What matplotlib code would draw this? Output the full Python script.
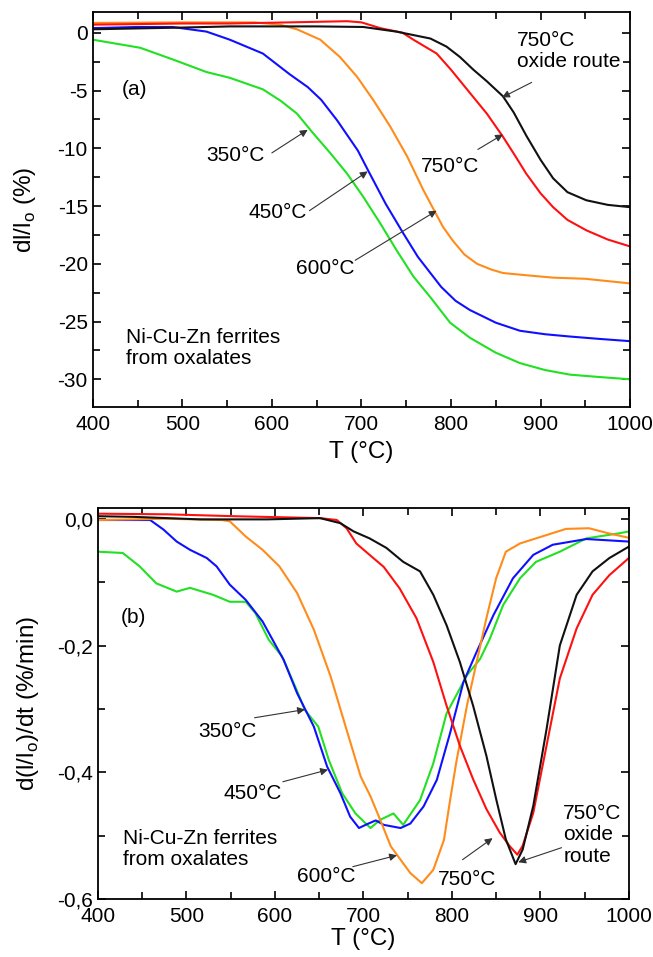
import matplotlib
matplotlib.use("Agg")
import matplotlib.pyplot as plt
from matplotlib.ticker import MultipleLocator, FuncFormatter

plt.rcParams["font.family"] = ["Liberation Sans", "DejaVu Sans"]
plt.rcParams["axes.unicode_minus"] = False

# ---- (a) dl/lo (%) vs T ----
a_350_T = [400, 453, 489, 527, 553, 590, 610, 628, 645, 665, 684, 702, 721, 739, 758, 777, 799, 821, 850, 877, 905, 933, 965, 1000]
a_350_y = [-0.6, -1.3, -2.3, -3.4, -3.9, -4.9, -5.9, -7.0, -8.6, -10.4, -12.2, -14.2, -16.5, -18.8, -21.1, -22.9, -25.1, -26.4, -27.7, -28.6, -29.2, -29.6, -29.8, -30.0]

a_450_T = [400, 450, 489, 527, 553, 590, 620, 640, 655, 673, 696, 708, 727, 747, 763, 780, 789, 805, 821, 850, 877, 905, 933, 965, 1000]
a_450_y = [0.4, 0.5, 0.5, 0.1, -0.6, -1.8, -3.6, -4.7, -5.8, -7.6, -10.2, -12.0, -14.8, -17.4, -19.4, -21.1, -22.0, -23.2, -24.0, -25.1, -25.8, -26.1, -26.3, -26.5, -26.7]

a_600_T = [400, 500, 580, 609, 628, 654, 676, 695, 713, 732, 751, 769, 782, 791, 802, 815, 829, 845, 858, 885, 914, 950, 1000]
a_600_y = [0.85, 0.9, 0.9, 0.7, 0.3, -0.6, -2.1, -3.8, -5.8, -8.1, -10.7, -13.6, -15.5, -16.8, -18.0, -19.2, -20.0, -20.5, -20.8, -21.0, -21.2, -21.3, -21.7]

a_750_T = [400, 500, 553, 620, 684, 700, 721, 746, 758, 784, 800, 821, 840, 858, 872, 884, 900, 914, 930, 951, 975, 1000]
a_750_y = [0.7, 0.8, 0.8, 0.9, 1.0, 0.9, 0.4, 0.0, -0.6, -1.8, -3.2, -5.2, -7.0, -9.0, -10.7, -12.2, -13.9, -15.1, -16.2, -17.1, -17.9, -18.5]

a_ox_T = [400, 500, 553, 650, 702, 739, 777, 795, 810, 825, 840, 858, 870, 884, 900, 914, 930, 951, 975, 1000]
a_ox_y = [0.3, 0.45, 0.55, 0.55, 0.5, 0.1, -0.5, -1.2, -2.1, -3.2, -4.2, -5.5, -6.9, -8.9, -11.0, -12.6, -13.8, -14.5, -14.9, -15.1]

# ---- (b) d(l/lo)/dt (%/min) vs T ----
b_350_T = [400, 428, 447, 466, 489, 504, 530, 549, 567, 578, 593, 608, 623, 634, 649, 661, 676, 691, 708, 719, 734, 745, 764, 779, 794, 801, 817, 832, 843, 858, 877, 895, 922, 952, 989, 1000]
b_350_y = [-0.052, -0.054, -0.075, -0.102, -0.115, -0.109, -0.120, -0.131, -0.131, -0.149, -0.191, -0.217, -0.265, -0.302, -0.328, -0.381, -0.433, -0.465, -0.488, -0.475, -0.465, -0.483, -0.444, -0.386, -0.307, -0.289, -0.247, -0.221, -0.189, -0.136, -0.094, -0.068, -0.052, -0.031, -0.023, -0.020]

b_450_T = [400, 459, 474, 489, 504, 523, 534, 549, 567, 586, 610, 625, 644, 659, 674, 685, 695, 704, 714, 723, 742, 753, 768, 783, 798, 813, 828, 847, 869, 892, 914, 952, 1000]
b_450_y = [-0.002, -0.002, -0.017, -0.036, -0.049, -0.062, -0.075, -0.104, -0.128, -0.162, -0.223, -0.275, -0.328, -0.391, -0.433, -0.470, -0.488, -0.482, -0.476, -0.483, -0.488, -0.481, -0.454, -0.412, -0.338, -0.258, -0.210, -0.152, -0.094, -0.057, -0.041, -0.032, -0.036]

b_600_T = [400, 478, 540, 549, 567, 586, 605, 625, 644, 663, 681, 697, 708, 719, 731, 742, 753, 766, 779, 791, 798, 805, 817, 828, 839, 850, 861, 877, 895, 929, 955, 977, 1000]
b_600_y = [-0.002, 0.000, -0.002, -0.004, -0.028, -0.049, -0.075, -0.117, -0.175, -0.249, -0.333, -0.407, -0.438, -0.475, -0.517, -0.538, -0.559, -0.575, -0.554, -0.507, -0.444, -0.384, -0.295, -0.226, -0.157, -0.094, -0.052, -0.039, -0.031, -0.016, -0.015, -0.023, -0.030]

b_750_T = [400, 478, 554, 651, 670, 681, 692, 707, 723, 741, 760, 779, 794, 809, 824, 839, 854, 865, 874, 880, 892, 907, 922, 941, 959, 978, 1000]
b_750_y = [0.008, 0.007, 0.004, 0.001, -0.002, -0.015, -0.039, -0.057, -0.076, -0.110, -0.157, -0.226, -0.295, -0.358, -0.411, -0.458, -0.495, -0.516, -0.530, -0.516, -0.464, -0.358, -0.252, -0.173, -0.120, -0.089, -0.062]

b_ox_T = [400, 440, 516, 591, 651, 674, 689, 707, 726, 745, 764, 779, 794, 809, 824, 839, 850, 861, 872, 880, 892, 907, 922, 941, 959, 978, 1000]
b_ox_y = [0.004, 0.003, -0.001, -0.001, 0.001, -0.007, -0.020, -0.031, -0.046, -0.068, -0.083, -0.120, -0.168, -0.226, -0.295, -0.374, -0.442, -0.506, -0.545, -0.522, -0.453, -0.332, -0.200, -0.120, -0.083, -0.062, -0.044]

GREEN = "#22e022"
BLUE = "#1010ff"
ORANGE = "#ff8c1a"
RED = "#ff1010"
BLACK = "#111111"

fig = plt.figure(figsize=(6.53, 9.57), dpi=100)
ax1 = fig.add_axes([0.142, 0.5747, 0.823, 0.4128])
ax2 = fig.add_axes([0.150, 0.0606, 0.813, 0.4086])

lw = 1.5
ax1.plot(a_350_T, a_350_y, color=GREEN, lw=lw)
ax1.plot(a_450_T, a_450_y, color=BLUE, lw=lw)
ax1.plot(a_600_T, a_600_y, color=ORANGE, lw=lw)
ax1.plot(a_750_T, a_750_y, color=RED, lw=lw)
ax1.plot(a_ox_T, a_ox_y, color=BLACK, lw=lw)

ax2.plot(b_350_T, b_350_y, color=GREEN, lw=lw)
ax2.plot(b_450_T, b_450_y, color=BLUE, lw=lw)
ax2.plot(b_600_T, b_600_y, color=ORANGE, lw=lw)
ax2.plot(b_750_T, b_750_y, color=RED, lw=lw)
ax2.plot(b_ox_T, b_ox_y, color=BLACK, lw=lw)

fs_tick = 15
fs_lab = 17.5
fs_txt = 15

for ax in (ax1, ax2):
    ax.set_xlim(400, 1000)
    ax.xaxis.set_major_locator(MultipleLocator(100))
    ax.xaxis.set_minor_locator(MultipleLocator(50))
    ax.tick_params(which="both", direction="in", top=True, right=True, labelsize=fs_tick, width=1.2)
    ax.tick_params(which="major", length=6)
    ax.tick_params(which="minor", length=5)
    ax.tick_params(axis="x", pad=6)
    for s in ax.spines.values():
        s.set_linewidth(1.3)

ax1.set_xlabel("T (°C)", fontsize=fs_lab, labelpad=5)
ax2.set_xlabel("T (°C)", fontsize=fs_lab, labelpad=1)

ax1.set_ylim(-32.4, 1.8)
ax1.yaxis.set_major_locator(MultipleLocator(5))
ax1.yaxis.set_minor_locator(MultipleLocator(2.5))
ax1.set_ylabel(r"dl/l$_\mathregular{o}$ (%)", fontsize=fs_lab, labelpad=14)

ax2.set_ylim(-0.6, 0.017)
ax2.yaxis.set_major_locator(MultipleLocator(0.2))
ax2.yaxis.set_minor_locator(MultipleLocator(0.1))
ax2.yaxis.set_major_formatter(FuncFormatter(lambda v, p: f"{v:.1f}".replace(".", ",").replace("-0,0", "0,0")))
ax2.set_ylabel(r"d(l/l$_\mathregular{o}$)/dt (%/min)", fontsize=fs_lab, labelpad=12)

arrow = dict(arrowstyle="-|>", color="#333333", lw=0.8, mutation_scale=11, shrinkA=0, shrinkB=0)

# panel (a) texts
ax1.text(447, -4.9, "(a)", fontsize=fs_txt, va="center", ha="center")
ax1.text(437, -25.6, "Ni-Cu-Zn ferrites\nfrom oxalates", fontsize=fs_txt, va="top", ha="left", linespacing=1.1)
ax1.text(874, -1.6, "750°C\noxide route", fontsize=fs_txt, ha="left", va="center", linespacing=1.15)
ax1.annotate("", xy=(857, -5.6), xytext=(890, -4.3), arrowprops=arrow)
ax1.text(799, -11.6, "750°C", fontsize=fs_txt, ha="center", va="center")
ax1.annotate("", xy=(858, -8.8), xytext=(830, -10.1), arrowprops=arrow)
ax1.text(559, -10.6, "350°C", fontsize=fs_txt, ha="center", va="center")
ax1.annotate("", xy=(640, -8.4), xytext=(600, -10.4), arrowprops=arrow)
ax1.text(606, -15.6, "450°C", fontsize=fs_txt, ha="center", va="center")
ax1.annotate("", xy=(707, -12.0), xytext=(642, -15.4), arrowprops=arrow)
ax1.text(660, -20.4, "600°C", fontsize=fs_txt, ha="center", va="center")
ax1.annotate("", xy=(784, -15.4), xytext=(693, -19.7), arrowprops=arrow)

# panel (b) texts
ax2.text(440, -0.156, "(b)", fontsize=fs_txt, va="center", ha="center")
ax2.text(428, -0.49, "Ni-Cu-Zn ferrites\nfrom oxalates", fontsize=fs_txt, va="top", ha="left", linespacing=1.1)
ax2.text(546, -0.336, "350°C", fontsize=fs_txt, ha="center", va="center")
ax2.annotate("", xy=(634, -0.301), xytext=(577, -0.314), arrowprops=arrow)
ax2.text(575, -0.433, "450°C", fontsize=fs_txt, ha="center", va="center")
ax2.annotate("", xy=(660, -0.396), xytext=(609, -0.415), arrowprops=arrow)
ax2.text(658, -0.565, "600°C", fontsize=fs_txt, ha="center", va="center")
ax2.annotate("", xy=(738, -0.531), xytext=(688, -0.549), arrowprops=arrow)
ax2.text(817, -0.570, "750°C", fontsize=fs_txt, ha="center", va="center")
ax2.annotate("", xy=(846, -0.504), xytext=(812, -0.538), arrowprops=arrow)
ax2.text(926, -0.499, "750°C\noxide\nroute", fontsize=fs_txt, ha="left", va="center", linespacing=1.15)
ax2.annotate("", xy=(875, -0.542), xytext=(924, -0.519), arrowprops=arrow)

fig.savefig("out.png", dpi=100)
